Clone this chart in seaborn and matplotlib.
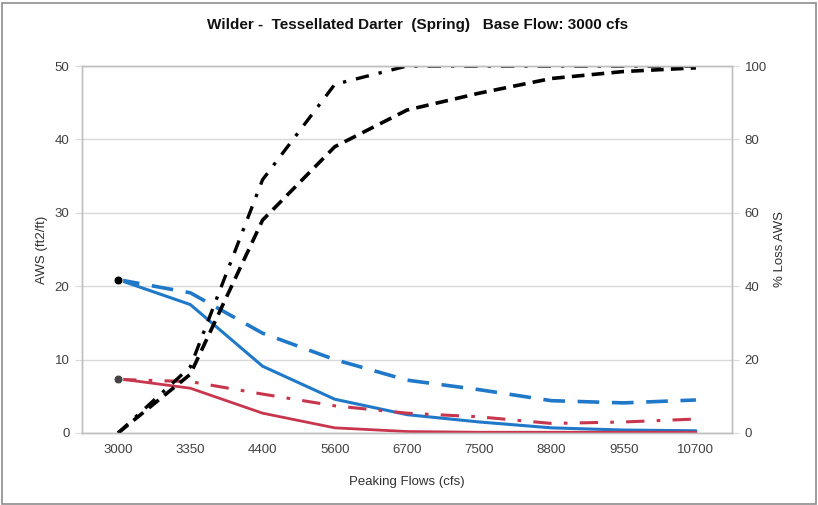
import numpy as np
import pandas as pd
import matplotlib.pyplot as plt
from matplotlib.patches import Rectangle
import seaborn as sns

sns.set_style('white')
plt.rcParams['font.family'] = ['Liberation Sans', 'DejaVu Sans']

# peaking flow categories (cfs)
flows = ['3000', '3350', '4400', '5600', '6700', '7500', '8800', '9550', '10700']

# AWS (ft2/ft), left axis
aws_blue_solid = [20.9, 17.5, 9.1, 4.6, 2.5, 1.5, 0.7, 0.4, 0.3]
aws_blue_dash = [20.9, 19.1, 13.6, 10.0, 7.2, 5.9, 4.4, 4.1, 4.5]
aws_red_solid = [7.4, 6.1, 2.7, 0.7, 0.2, 0.1, 0.1, 0.1, 0.1]
aws_red_dashdot = [7.3, 7.0, 5.3, 3.7, 2.7, 2.2, 1.3, 1.5, 1.9]

# % loss AWS, right axis
loss_dashdot = [0, 18, 69, 95, 100, 100, 100, 100, 100]
loss_dash = [0, 16, 58, 78, 88, 92.6, 96.6, 98.5, 99.5]

df = pd.DataFrame({
    'pos': np.arange(len(flows)),
    'blue_solid': aws_blue_solid,
    'blue_dash': aws_blue_dash,
    'red_solid': aws_red_solid,
    'red_dashdot': aws_red_dashdot,
    'loss_dashdot': loss_dashdot,
    'loss_dash': loss_dash,
})

blue = '#1f78c8'
red = '#c8364e'

fig = plt.figure(figsize=(8.18, 5.05), dpi=100)
ax = fig.add_axes([0.1002, 0.1426, 0.7947, 0.7267])
ax2 = ax.twinx()

# gridlines first so lines sit on top
ax.set_ylim(0, 50)
ax.set_yticks(range(0, 51, 10))
ax.yaxis.grid(True, color='#d9d9d9', linewidth=1)
ax.set_axisbelow(True)

sns.lineplot(data=df, x='pos', y='blue_dash', ax=ax, color=blue, linewidth=2.6,
             linestyle=(0, (6, 3.5)))
sns.lineplot(data=df, x='pos', y='blue_solid', ax=ax, color=blue, linewidth=2.2)
sns.lineplot(data=df, x='pos', y='red_dashdot', ax=ax, color=red, linewidth=2.2,
             linestyle=(0, (6, 4, 1.2, 4)))
sns.lineplot(data=df, x='pos', y='red_solid', ax=ax, color=red, linewidth=2.0)
sns.scatterplot(x=df['pos'][:1], y=df['blue_solid'][:1], ax=ax, color='black', s=40, zorder=5)
sns.scatterplot(x=df['pos'][:1], y=df['red_solid'][:1], ax=ax, color='#444444', s=40, zorder=5)

sns.lineplot(data=df, x='pos', y='loss_dashdot', ax=ax2, color='black', linewidth=2.4,
             linestyle=(0, (4, 3, 1, 3)))
sns.lineplot(data=df, x='pos', y='loss_dash', ax=ax2, color='black', linewidth=2.6,
             linestyle=(0, (3.5, 2)))

ax.set_xlim(-0.5, len(flows) - 0.5)
ax.set_xticks(df['pos'])
ax.set_xticklabels(flows)
ax2.set_ylim(0, 100)
ax2.set_yticks(range(0, 101, 20))

for a in (ax, ax2):
    for s in a.spines.values():
        s.set_color('#bfbfbf')
        s.set_linewidth(1)
    a.tick_params(colors='#404040', labelsize=9.5, length=0, pad=8)
ax.tick_params(axis='y', length=5, color='#d9d9d9', direction='out', pad=4)
ax2.tick_params(axis='y', length=5, color='#d9d9d9', direction='out', pad=4)

ax.set_xlabel('Peaking Flows (cfs)', fontsize=9.5, color='#303030', labelpad=14)
ax.set_ylabel('AWS (ft2/ft)', fontsize=9.5, color='#303030', labelpad=5)
ax2.set_ylabel('% Loss AWS', fontsize=9.5, color='#303030', rotation=90, labelpad=5)
fig.suptitle('Wilder -  Tessellated Darter  (Spring)   Base Flow: 3000 cfs',
             x=0.51, y=0.965, fontsize=11, fontweight='bold', color='#111111')

# chart frame
fig.patches.append(Rectangle((0.002, 0.002), 0.996, 0.992, transform=fig.transFigure,
                             fill=False, edgecolor='#8c8c8c', linewidth=1.2))

fig.savefig('out.png', dpi=100)
